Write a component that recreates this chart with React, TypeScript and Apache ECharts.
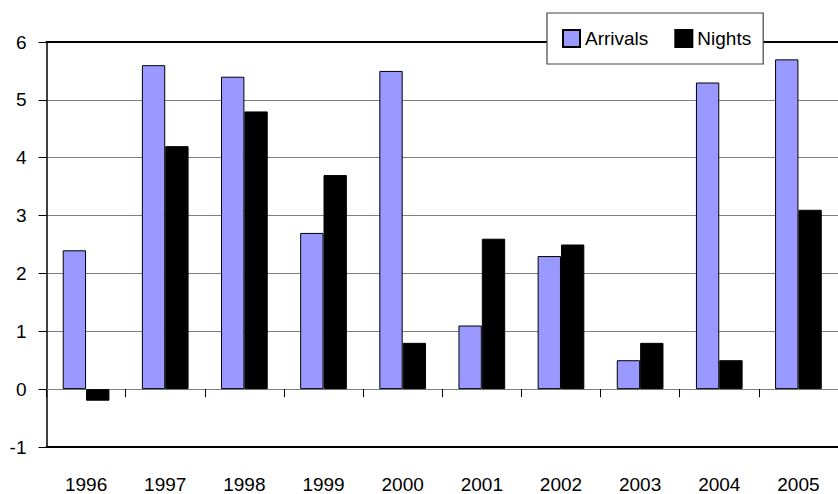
import React, { useEffect, useRef } from "react";
import * as echarts from "echarts";

const categories = ["1996", "1997", "1998", "1999", "2000", "2001", "2002", "2003", "2004", "2005"];
const arrivals = [2.4, 5.6, 5.4, 2.7, 5.5, 1.1, 2.3, 0.5, 5.3, 5.7];
const nights = [-0.2, 4.2, 4.8, 3.7, 0.8, 2.6, 2.5, 0.8, 0.5, 3.1];
const seriesNames = ["Arrivals", "Nights"];

const FONT = "'Liberation Sans', Arial, sans-serif";
const FS = 19;

export default function App() {
  const ref = useRef<HTMLDivElement>(null);
  useEffect(() => {
    document.body.style.margin = "0";
    const chart = echarts.init(ref.current!, null, { renderer: "svg" });
    chart.setOption({
      animation: false,
      backgroundColor: "#ffffff",
      textStyle: { fontFamily: FONT },
      grid: { left: 46.5, top: 42, bottom: 46, right: -12.5, containLabel: false },
      legend: {
        left: 547,
        top: 13,
        itemWidth: 17,
        itemHeight: 17,
        itemGap: 26,
        icon: "rect",
        padding: [16, 12, 16, 15],
        backgroundColor: "#ffffff",
        borderColor: "#444444",
        borderWidth: 1.2,
        textStyle: { fontSize: FS, color: "#000", fontFamily: FONT },
        data: seriesNames,
      },
      xAxis: [
        {
          type: "category",
          data: categories,
          position: "bottom",
          axisLine: { show: true, onZero: false, lineStyle: { color: "#000", width: 2 } },
          axisTick: { show: false },
          axisLabel: { color: "#000", fontSize: FS, margin: 28, fontFamily: FONT },
          splitLine: { show: false },
        },
        {
          type: "category",
          data: categories,
          position: "top",
          axisLine: { show: true, onZero: true, lineStyle: { color: "#808080", width: 1 } },
          axisTick: { show: true, inside: true, length: 8, lineStyle: { color: "#000", width: 1 } },
          axisLabel: { show: false },
          splitLine: { show: false },
        },
        {
          type: "category",
          data: categories,
          position: "top",
          axisLine: { show: true, onZero: false, lineStyle: { color: "#000", width: 2 } },
          axisTick: { show: false },
          axisLabel: { show: false },
          splitLine: { show: false },
        },
      ],
      yAxis: {
        type: "value",
        min: -1,
        max: 6,
        interval: 1,
        axisLine: { show: true, lineStyle: { color: "#000", width: 1.5 } },
        axisTick: { show: true, length: 8, lineStyle: { color: "#000", width: 1 } },
        axisLabel: { color: "#000", fontSize: FS, margin: 20, fontFamily: FONT },
        splitLine: { show: true, showMinLine: false, showMaxLine: false, lineStyle: { color: "#808080", width: 1 } },
      },
      series: [
        {
          name: seriesNames[0],
          type: "bar",
          data: arrivals,
          barGap: "0%",
          barCategoryGap: "41%",
          itemStyle: { color: "#9999FF", borderColor: "#000", borderWidth: 1 },
        },
        {
          name: seriesNames[1],
          type: "bar",
          data: nights,
          barGap: "0%",
          barCategoryGap: "41%",
          itemStyle: { color: "#000000", borderColor: "#000", borderWidth: 1 },
        },
      ],
    });
    return () => chart.dispose();
  }, []);
  return <div ref={ref} style={{ width: 838, height: 494 }} />;
}
